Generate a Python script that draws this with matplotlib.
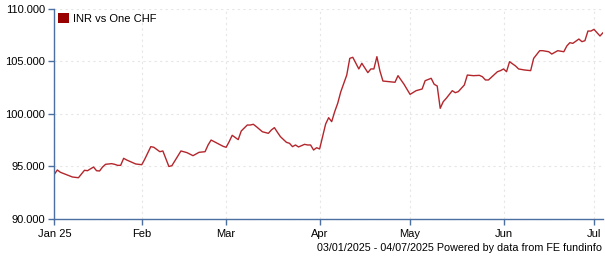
import matplotlib
matplotlib.use("Agg")
import matplotlib.pyplot as plt
from matplotlib.patches import Patch
from matplotlib.ticker import FuncFormatter
import pandas as pd

plt.rcParams['font.family'] = ['Liberation Sans', 'DejaVu Sans']

# INR per one CHF
dates = ['2025-01-03', '2025-01-04', '2025-01-05', '2025-01-07', '2025-01-09', '2025-01-11',
         '2025-01-12', '2025-01-13', '2025-01-14', '2025-01-16', '2025-01-17', '2025-01-18',
         '2025-01-19', '2025-01-20', '2025-01-22', '2025-01-23', '2025-01-24', '2025-01-25',
         '2025-01-26', '2025-01-27', '2025-01-30', '2025-02-01', '2025-02-02', '2025-02-03',
         '2025-02-04', '2025-02-05', '2025-02-07', '2025-02-08', '2025-02-10', '2025-02-11',
         '2025-02-14', '2025-02-16', '2025-02-18', '2025-02-20', '2025-02-22', '2025-02-23',
         '2025-02-24', '2025-02-25', '2025-02-28', '2025-03-01', '2025-03-02', '2025-03-03',
         '2025-03-05', '2025-03-06', '2025-03-08', '2025-03-09', '2025-03-10', '2025-03-11',
         '2025-03-13', '2025-03-15', '2025-03-16', '2025-03-17', '2025-03-18', '2025-03-19',
         '2025-03-21', '2025-03-22', '2025-03-23', '2025-03-24', '2025-03-25', '2025-03-27',
         '2025-03-28', '2025-03-29', '2025-03-30', '2025-03-31', '2025-04-01', '2025-04-03',
         '2025-04-04', '2025-04-05', '2025-04-06', '2025-04-07', '2025-04-08', '2025-04-10',
         '2025-04-11', '2025-04-12', '2025-04-14', '2025-04-15', '2025-04-17', '2025-04-18',
         '2025-04-19', '2025-04-20', '2025-04-21', '2025-04-22', '2025-04-24', '2025-04-26',
         '2025-04-27', '2025-04-28', '2025-04-29', '2025-05-01', '2025-05-03', '2025-05-05',
         '2025-05-06', '2025-05-08', '2025-05-09', '2025-05-10', '2025-05-11', '2025-05-12',
         '2025-05-13', '2025-05-15', '2025-05-16', '2025-05-17', '2025-05-19', '2025-05-20',
         '2025-05-22', '2025-05-24', '2025-05-25', '2025-05-26', '2025-05-27', '2025-05-30',
         '2025-05-31', '2025-06-01', '2025-06-02', '2025-06-03', '2025-06-05', '2025-06-06',
         '2025-06-08', '2025-06-10', '2025-06-11', '2025-06-13', '2025-06-14', '2025-06-16',
         '2025-06-17', '2025-06-19', '2025-06-21', '2025-06-22', '2025-06-23', '2025-06-24',
         '2025-06-26', '2025-06-27', '2025-06-28', '2025-06-29', '2025-06-30', '2025-07-01',
         '2025-07-03', '2025-07-04']
inr_chf = [94.26, 94.67, 94.45, 94.22, 94.00, 93.93,
           94.29, 94.64, 94.60, 94.95, 94.60, 94.57,
           94.95, 95.21, 95.27, 95.21, 95.11, 95.11,
           95.78, 95.62, 95.24, 95.17, 95.70, 96.30,
           96.89, 96.83, 96.41, 96.48, 95.00, 95.08,
           96.48, 96.32, 96.03, 96.35, 96.41, 97.05,
           97.52, 97.37, 96.92, 96.83, 97.37, 97.97,
           97.56, 98.38, 98.95, 98.95, 99.02, 98.80,
           98.31, 98.16, 98.48, 98.70, 98.26, 97.84,
           97.30, 97.21, 96.89, 97.05, 96.86, 97.11,
           97.05, 97.05, 96.57, 96.79, 96.67, 99.05,
           99.65, 99.27, 100.22, 101.02, 102.10, 103.71,
           105.30, 105.40, 104.29, 104.83, 103.94, 104.29,
           104.29, 105.46, 104.10, 103.14, 103.08, 103.02,
           103.65, 103.24, 102.83, 101.87, 102.22, 102.38,
           103.17, 103.40, 102.83, 102.67, 100.54, 101.17,
           101.49, 102.22, 102.03, 102.13, 102.76, 103.71,
           103.65, 103.68, 103.55, 103.24, 103.24, 104.03,
           104.13, 104.29, 104.03, 104.98, 104.57, 104.29,
           104.19, 104.13, 105.30, 106.03, 106.03, 105.93,
           105.71, 106.03, 105.93, 106.48, 106.79, 106.73,
           107.14, 106.89, 106.98, 107.90, 107.90, 108.06,
           107.43, 107.74]

tick_dates = ['2025-01-03', '2025-02-01', '2025-03-01', '2025-04-01',
              '2025-05-01', '2025-06-01', '2025-07-01']
tick_labels = ['Jan 25', 'Feb', 'Mar', 'Apr', 'May', 'Jun', 'Jul']
y_ticks = [90, 95, 100, 105, 110]

line_col = '#b3262c'
axis_col = '#4a6fa0'

x = pd.to_datetime(dates)

fig = plt.figure(figsize=(6.05, 2.6), dpi=100)
ax = fig.add_axes([0.0898, 0.1577, 0.9069, 0.8077])

ax.plot(x, inr_chf, color=line_col, linewidth=1.0)

ax.set_xlim(pd.Timestamp('2025-01-03'), pd.Timestamp('2025-07-04'))
ax.set_ylim(90, 110)
ax.set_yticks(y_ticks)
ax.yaxis.set_major_formatter(FuncFormatter(lambda v, p: '{:.3f}'.format(v)))
ax.set_xticks(pd.to_datetime(tick_dates))
ax.set_xticklabels(tick_labels)

ax.grid(True, color='#e6e6e6', linestyle=(0, (2, 3)), linewidth=0.8)
ax.set_axisbelow(True)

for s in ['top', 'right']:
    ax.spines[s].set_visible(False)
for s in ['left', 'bottom']:
    ax.spines[s].set_color(axis_col)
    ax.spines[s].set_linewidth(1.0)

ax.tick_params(axis='both', colors=axis_col, labelcolor='black', labelsize=8,
               length=4, width=1, direction='out')
ax.tick_params(axis='x', pad=3)
ax.tick_params(axis='y', pad=2.5)

leg_handles = [Patch(facecolor='#990000', edgecolor='none', label='INR vs One CHF')]
ax.legend(handles=leg_handles, loc='upper left', bbox_to_anchor=(0.0, 1.0), frameon=False,
          fontsize=8, handlelength=1.0, handleheight=1.0, handletextpad=0.35,
          borderaxespad=0.05, borderpad=0.3)

fig.text(0.995, 0.045, '03/01/2025 - 04/07/2025 Powered by data from FE fundinfo',
         ha='right', va='center', fontsize=7.75)

fig.savefig('out.png', dpi=100)
